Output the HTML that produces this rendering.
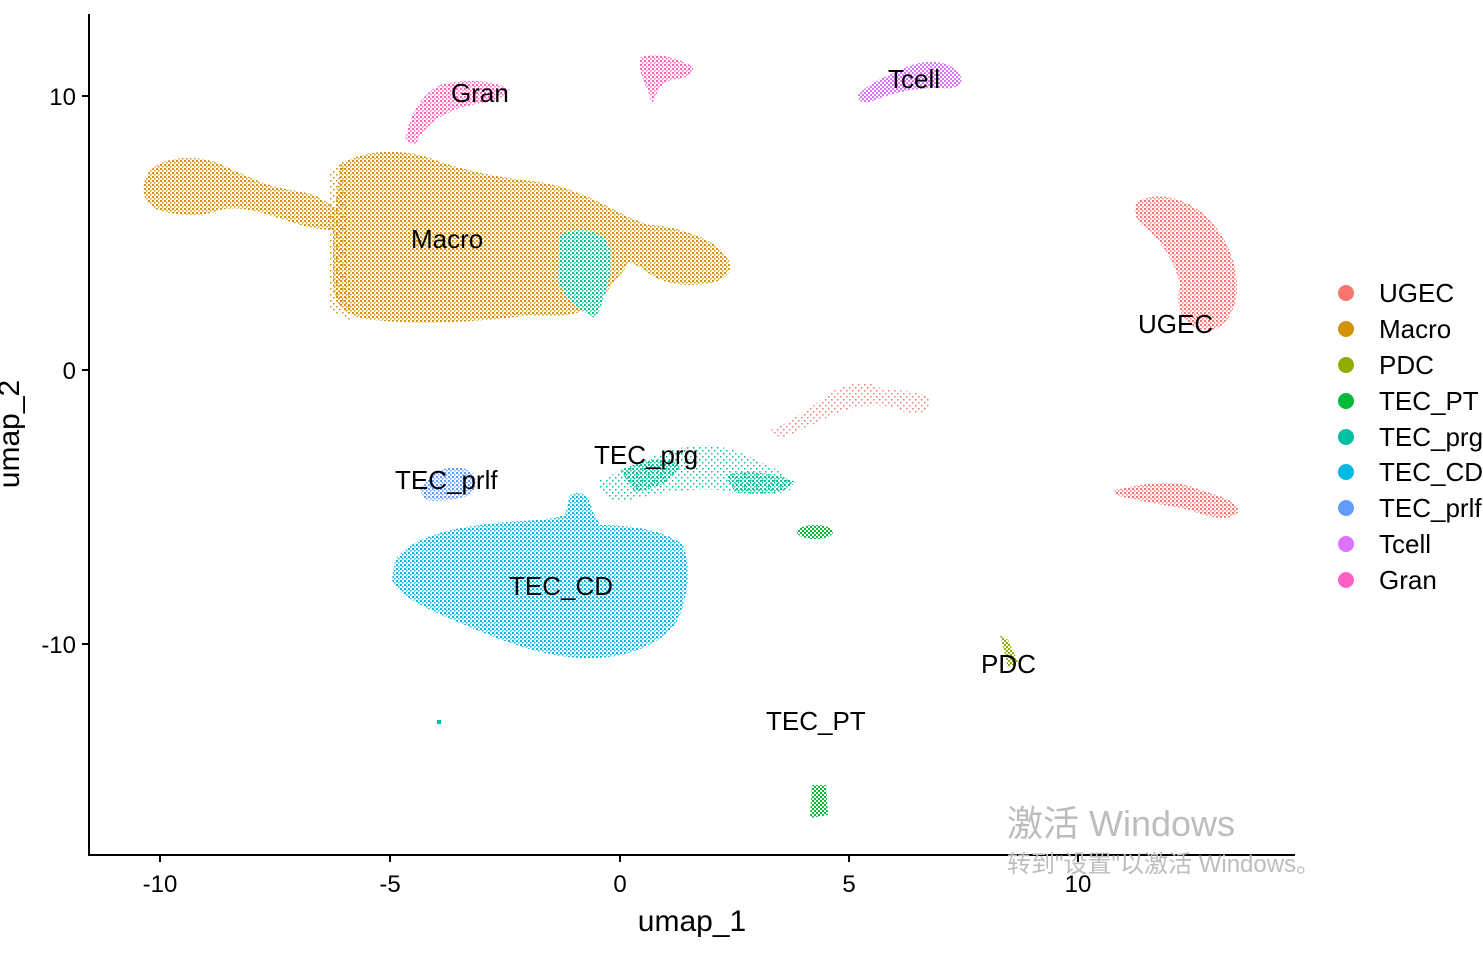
<!DOCTYPE html>
<html><head><meta charset="utf-8"><style>
html,body{margin:0;padding:0;background:#fff;}
svg{display:block;font-family:"Liberation Sans",Arial,sans-serif;}
</style></head><body>
<svg width="1483" height="955" viewBox="0 0 1483 955" xmlns="http://www.w3.org/2000/svg">
<defs>
<pattern id="pU" width="4" height="4" patternUnits="userSpaceOnUse"><rect x="0" y="0" width="2" height="2" fill="#F8766D"/><rect x="2" y="2" width="1.5" height="1.5" fill="#F8766D"/></pattern>
<pattern id="pM" width="4" height="4" patternUnits="userSpaceOnUse"><rect x="0" y="0" width="2" height="2" fill="#D39200"/><rect x="2" y="2" width="1.5" height="1.5" fill="#D39200"/></pattern>
<pattern id="pP" width="4" height="4" patternUnits="userSpaceOnUse"><rect x="0" y="0" width="2" height="2" fill="#93AA00"/><rect x="2" y="2" width="2" height="2" fill="#93AA00"/></pattern>
<pattern id="pT" width="4" height="4" patternUnits="userSpaceOnUse"><rect x="0" y="0" width="2" height="2" fill="#00BA38"/><rect x="2" y="2" width="2" height="2" fill="#00BA38"/></pattern>
<pattern id="pG" width="4" height="4" patternUnits="userSpaceOnUse"><rect x="0" y="0" width="2" height="2" fill="#00C19F"/><rect x="2" y="2" width="1.5" height="1.5" fill="#00C19F"/></pattern>
<pattern id="pC" width="4" height="4" patternUnits="userSpaceOnUse"><rect x="0" y="0" width="2" height="2" fill="#00B9E3"/><rect x="2" y="2" width="1.5" height="1.5" fill="#00B9E3"/></pattern>
<pattern id="pL" width="4" height="4" patternUnits="userSpaceOnUse"><rect x="0" y="0" width="2" height="2" fill="#619CFF"/><rect x="2" y="2" width="1.5" height="1.5" fill="#619CFF"/></pattern>
<pattern id="pK" width="4" height="4" patternUnits="userSpaceOnUse"><rect x="0" y="0" width="2" height="2" fill="#DB72FB"/><rect x="2" y="2" width="2" height="2" fill="#DB72FB"/></pattern>
<pattern id="pR" width="4" height="4" patternUnits="userSpaceOnUse"><rect x="0" y="0" width="2" height="2" fill="#FF61C3"/><rect x="2" y="2" width="1.5" height="1.5" fill="#FF61C3"/></pattern>
<pattern id="pS" width="6" height="6" patternUnits="userSpaceOnUse"><rect x="0" y="0" width="1.5" height="1.5" fill="#D39200"/><rect x="3" y="3" width="1.5" height="1.5" fill="#D39200"/></pattern>
<pattern id="pUs" width="6" height="6" patternUnits="userSpaceOnUse"><rect x="0" y="0" width="1.5" height="1.5" fill="#F8766D"/><rect x="3" y="3" width="1.5" height="1.5" fill="#F8766D"/></pattern>
<pattern id="pGs" width="6" height="6" patternUnits="userSpaceOnUse"><rect x="0" y="0" width="1.5" height="1.5" fill="#00C19F"/><rect x="3" y="3" width="1.5" height="1.5" fill="#00C19F"/></pattern>
</defs>

<!-- Macro -->
<path d="M145,180 C150,160 185,152 215,162 C240,172 260,185 290,190 C310,192 325,198 335,210 L340,165 C360,150 400,148 430,158 C460,170 500,178 540,182 C575,188 605,205 630,218 L650,225 C670,225 700,235 715,245 C735,260 735,275 715,282 C690,288 660,285 645,270 L630,262 L600,300 C585,315 560,318 530,315 C480,322 420,325 375,320 C345,318 333,305 333,280 L333,230 C315,230 300,225 285,220 C260,212 240,205 220,210 C200,218 175,215 158,210 C145,202 140,192 145,180 Z" fill="url(#pM)"/>
<path d="M330,170 L345,160 L350,320 L330,310 Z" fill="url(#pS)"/>
<!-- TEC_prg in macro -->
<path d="M560,235 C580,225 605,230 610,250 C612,275 605,300 595,318 C580,310 565,300 558,280 Z" fill="url(#pG)"/>
<!-- Gran -->
<path d="M405,140 C410,115 420,95 440,85 C465,78 495,80 510,90 C505,100 480,102 460,108 C440,115 425,125 415,145 Z" fill="url(#pR)"/>
<path d="M640,58 C650,52 670,55 690,65 C698,72 690,78 670,80 C660,85 655,95 652,105 L648,90 C642,80 638,66 640,58 Z" fill="url(#pR)"/>
<!-- Tcell -->
<path d="M858,95 C870,82 890,75 905,68 C920,60 945,58 958,72 C968,85 955,90 940,88 C915,88 895,92 875,100 C865,105 858,102 858,95 Z" fill="url(#pK)"/>
<!-- UGEC -->
<path d="M1140,200 C1160,192 1185,198 1205,215 C1230,240 1240,270 1236,300 C1230,320 1220,332 1205,330 C1180,325 1175,305 1180,285 C1175,260 1160,240 1145,228 C1133,218 1132,206 1140,200 Z" fill="url(#pU)"/>
<path d="M1115,490 C1140,485 1170,478 1195,488 C1215,495 1240,500 1238,512 C1230,522 1210,518 1190,510 C1165,505 1135,500 1115,495 Z" fill="url(#pU)"/>
<path d="M770,430 C795,420 815,405 830,392 C850,382 870,380 880,388 C900,392 920,388 930,400 C932,412 915,418 900,410 C880,402 860,405 840,412 C820,420 800,432 780,438 Z" fill="url(#pUs)"/>
<!-- TEC_prg lower -->
<path d="M600,480 C625,470 650,455 680,448 C710,440 740,450 760,462 C780,470 795,478 790,490 C770,497 745,495 720,490 C690,488 660,492 630,500 C610,505 598,495 600,480 Z" fill="url(#pGs)"/>
<path d="M620,470 C645,460 665,455 680,465 C675,480 655,490 635,492 Z" fill="url(#pG)"/>
<path d="M725,475 C745,470 775,472 795,482 C785,495 760,495 735,492 Z" fill="url(#pG)"/>
<!-- TEC_CD -->
<path d="M395,560 C410,540 440,530 480,525 C510,520 545,522 565,515 L570,495 C580,490 590,495 592,510 L600,525 C630,525 665,530 683,545 C692,570 688,600 675,625 C655,648 620,660 580,658 C540,656 500,640 465,625 C430,610 400,598 392,580 Z" fill="url(#pC)"/>
<!-- TEC_prlf -->
<path d="M420,490 C430,472 445,465 462,468 C478,472 480,485 470,495 C455,500 440,502 425,500 Z" fill="url(#pL)"/>
<!-- TEC_PT -->
<ellipse cx="815" cy="532" rx="18" ry="7" fill="url(#pT)"/>
<path d="M812,785 L826,785 L828,815 L810,818 Z" fill="url(#pT)"/>
<!-- PDC -->
<path d="M1000,635 L1008,640 L1018,662 L1008,668 L1004,650 Z" fill="url(#pP)"/>
<rect x="437" y="720" width="4" height="4" fill="#00C19F"/>

<!-- cluster labels -->
<g font-size="26" fill="#000">
<text x="451" y="102">Gran</text>
<text x="888" y="88">Tcell</text>
<text x="411" y="248">Macro</text>
<text x="1138" y="333">UGEC</text>
<text x="594" y="464">TEC_prg</text>
<text x="395" y="489">TEC_prlf</text>
<text x="509" y="595">TEC_CD</text>
<text x="981" y="673">PDC</text>
<text x="766" y="730">TEC_PT</text>
</g>

<!-- axes -->
<g stroke="#000" stroke-width="2">
<line x1="89" y1="14" x2="89" y2="856"/>
<line x1="88" y1="855" x2="1295" y2="855"/>
<line x1="82" y1="96" x2="89" y2="96"/>
<line x1="82" y1="370" x2="89" y2="370"/>
<line x1="82" y1="644" x2="89" y2="644"/>
<line x1="160" y1="855" x2="160" y2="862"/>
<line x1="390" y1="855" x2="390" y2="862"/>
<line x1="620" y1="855" x2="620" y2="862"/>
<line x1="849" y1="855" x2="849" y2="862"/>
<line x1="1078" y1="855" x2="1078" y2="862"/>
</g>
<g font-size="24" fill="#000">
<text x="76" y="105" text-anchor="end">10</text>
<text x="76" y="379" text-anchor="end">0</text>
<text x="76" y="653" text-anchor="end">-10</text>
<text x="160" y="892" text-anchor="middle">-10</text>
<text x="390" y="892" text-anchor="middle">-5</text>
<text x="620" y="892" text-anchor="middle">0</text>
<text x="849" y="892" text-anchor="middle">5</text>
<text x="1078" y="892" text-anchor="middle">10</text>
</g>
<text x="692" y="931" font-size="30" text-anchor="middle">umap_1</text>
<text transform="translate(19,434) rotate(-90)" font-size="30" text-anchor="middle">umap_2</text>

<!-- legend -->
<g font-size="26">
<circle cx="1346" cy="293" r="8" fill="#F8766D"/><text x="1379" y="302">UGEC</text>
<circle cx="1346" cy="329" r="8" fill="#D39200"/><text x="1379" y="338">Macro</text>
<circle cx="1346" cy="365" r="8" fill="#93AA00"/><text x="1379" y="374">PDC</text>
<circle cx="1346" cy="401" r="8" fill="#00BA38"/><text x="1379" y="410">TEC_PT</text>
<circle cx="1346" cy="437" r="8" fill="#00C19F"/><text x="1379" y="446">TEC_prg</text>
<circle cx="1346" cy="472" r="8" fill="#00B9E3"/><text x="1379" y="481">TEC_CD</text>
<circle cx="1346" cy="508" r="8" fill="#619CFF"/><text x="1379" y="517">TEC_prlf</text>
<circle cx="1346" cy="544" r="8" fill="#DB72FB"/><text x="1379" y="553">Tcell</text>
<circle cx="1346" cy="580" r="8" fill="#FF61C3"/><text x="1379" y="589">Gran</text>
</g>

<!-- watermark -->
<text x="1007" y="836" font-size="36" fill="#bdbdbd" font-family="'Liberation Sans','Noto Sans CJK SC',sans-serif">激活 Windows</text>
<text x="1007" y="872" font-size="24" fill="#bdbdbd" font-family="'Liberation Sans','Noto Sans CJK SC',sans-serif">转到"设置"以激活 Windows。</text>
</svg>
</body></html>
